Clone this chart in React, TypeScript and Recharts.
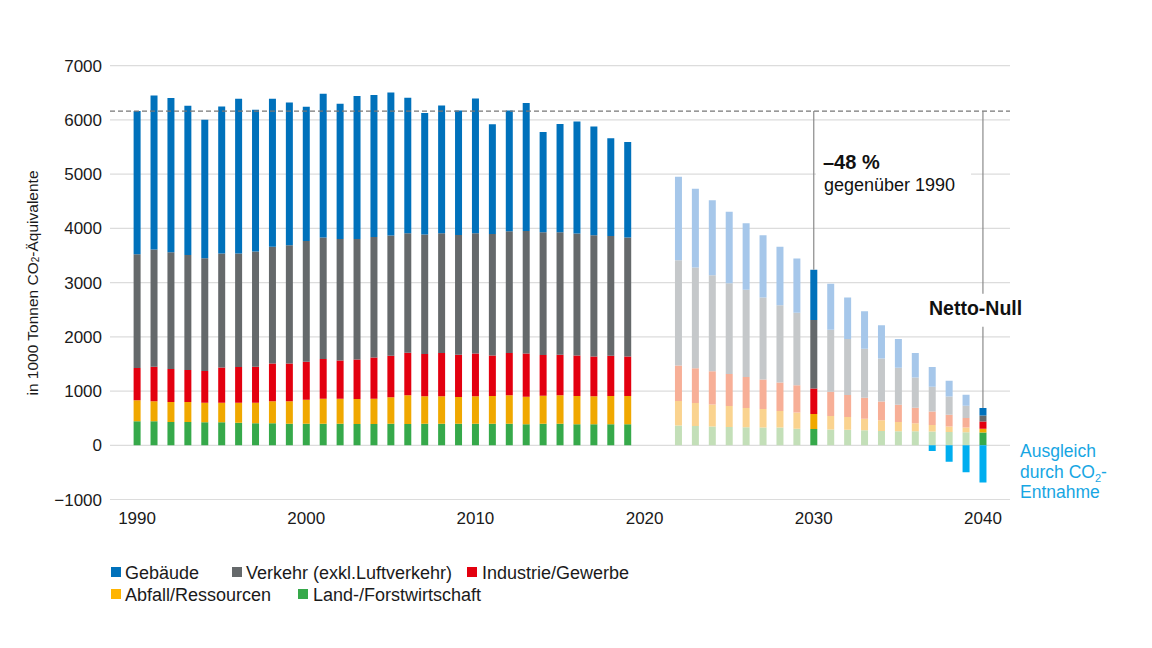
import React from "react";
import { BarChart, Bar, XAxis, YAxis, CartesianGrid, ReferenceLine, Cell } from "recharts";

const years = [
  1990, 1991, 1992, 1993, 1994, 1995, 1996, 1997, 1998, 1999,
  2000, 2001, 2002, 2003, 2004, 2005, 2006, 2007, 2008, 2009,
  2010, 2011, 2012, 2013, 2014, 2015, 2016, 2017, 2018, 2019,
  2022, 2023, 2024, 2025, 2026, 2027, 2028, 2029, 2030,
  2031, 2032, 2033, 2034, 2035, 2036, 2037, 2038, 2039, 2040,
];

const land = [
  442, 442, 430, 430, 424, 424, 417, 405, 405, 399,
  399, 399, 399, 393, 393, 399, 393, 399, 399, 399,
  399, 399, 399, 387, 399, 399, 387, 387, 387, 387,
  363, 357, 344, 338, 332, 326, 326, 307, 301,
  292, 286, 277, 265, 259, 259, 253, 246, 240, 236,
];

const abfall = [
  387, 368, 368, 368, 362, 362, 369, 381, 405, 411,
  442, 460, 460, 460, 466, 485, 528, 503, 503, 491,
  503, 510, 522, 509, 516, 522, 522, 515, 522, 522,
  455, 424, 406, 388, 357, 344, 307, 296, 277,
  250, 234, 210, 197, 172, 148, 123, 99, 87, 68,
];

const industrie = [
  595, 639, 608, 589, 583, 650, 657, 663, 700, 700,
  700, 731, 706, 731, 762, 767, 786, 780, 798, 780,
  792, 748, 779, 798, 749, 749, 748, 737, 742, 730,
  652, 640, 615, 590, 572, 542, 523, 504, 468,
  446, 407, 388, 345, 315, 283, 246, 216, 178, 135,
];

const verkehr = [
  2100, 2161, 2154, 2124, 2081, 2100, 2093, 2124, 2149, 2179,
  2228, 2241, 2241, 2222, 2222, 2216, 2203, 2204, 2210, 2210,
  2216, 2241, 2247, 2259, 2265, 2259, 2247, 2235, 2210, 2192,
  1943, 1857, 1772, 1673, 1605, 1512, 1427, 1335, 1266,
  1142, 1031, 906, 795, 683, 561, 456, 339, 222, 110,
];

const gebaeude = [
  2639, 2842, 2843, 2751, 2554, 2713, 2854, 2615, 2731, 2634,
  2474, 2651, 2492, 2634, 2615, 2640, 2499, 2240, 2358, 2295,
  2487, 2020, 2228, 2358, 1847, 1995, 2069, 2007, 1799, 1761,
  1538, 1451, 1383, 1316, 1230, 1151, 1076, 1002, 923,
  850, 766, 690, 610, 530, 450, 364, 289, 203, 137,
];

const entnahme = [
  0, 0, 0, 0, 0, 0, 0, 0, 0, 0,
  0, 0, 0, 0, 0, 0, 0, 0, 0, 0,
  0, 0, 0, 0, 0, 0, 0, 0, 0, 0,
  0, 0, 0, 0, 0, 0, 0, 0, 0,
  0, 0, 0, 0, 0, 0, -105, -302, -499, -686,
];

const lastHistoricYear = 2019;
const highlightedYears = [2030, 2040];
const xTicks = [1990, 2000, 2010, 2020, 2030, 2040];
const yTicks = [-1000, 0, 1000, 2000, 3000, 4000, 5000, 6000, 7000];
const level1990 = 6163;
const level2030 = 3235;
const level2040 = 686;

const series = [
  { key: "land", name: "Land-/Forstwirtschaft", full: "#36a94a", light: "#c3dfb8" },
  { key: "abfall", name: "Abfall/Ressourcen", full: "#f0a800", light: "#fad38f" },
  { key: "industrie", name: "Industrie/Gewerbe", full: "#e3000f", light: "#f7af97" },
  { key: "verkehr", name: "Verkehr (exkl.Luftverkehr)", full: "#65696b", light: "#c5c8ca" },
  { key: "gebaeude", name: "Gebäude", full: "#0071bb", light: "#a6c7ea" },
];

const removalColor = "#00aeef";

const data = years.map((year, i) => ({
  year,
  land: land[i],
  abfall: abfall[i],
  industrie: industrie[i],
  verkehr: verkehr[i],
  gebaeude: gebaeude[i],
  entnahme: entnahme[i],
}));

const isFull = (year: number) => year <= lastHistoricYear || highlightedYears.includes(year);

const font = "'Liberation Sans', Arial, Helvetica, sans-serif";

const legendItems = [
  { label: "Gebäude", color: "#0071bb", sx: 103, tx: 117, y: 564 },
  { label: "Verkehr (exkl.Luftverkehr)", color: "#65696b", sx: 224, tx: 238, y: 564 },
  { label: "Industrie/Gewerbe", color: "#e3000f", sx: 459, tx: 474, y: 564 },
  { label: "Abfall/Ressourcen", color: "#ffb400", sx: 103, tx: 117, y: 586 },
  { label: "Land-/Forstwirtschaft", color: "#36a94a", sx: 290, tx: 305, y: 586 },
];

const formatY = (v: number) => (v < 0 ? "\u2212" + Math.abs(v) : String(v));

export default function App() {
  return (
    <div style={{ position: "relative", width: 1144, height: 632, fontFamily: font, background: "#fff" }}>
      <BarChart
        width={1144}
        height={560}
        data={data}
        stackOffset="sign"
        margin={{ top: 57.7, right: 142, bottom: 38.5, left: 42 }}
      >
        <CartesianGrid vertical={false} stroke="#dcdcdc" strokeWidth={1.2} />
        <XAxis
          dataKey="year"
          type="number"
          domain={[1988.4, 2041.6]}
          ticks={xTicks}
          allowDataOverflow
          axisLine={false}
          tickLine={false}
          tickMargin={6}
          height={30}
          tick={{ fontSize: 17, fill: "#1a1a1a", fontFamily: font }}
        />
        <YAxis
          type="number"
          domain={[-1000, 7000]}
          ticks={yTicks}
          allowDataOverflow
          axisLine={false}
          tickLine={false}
          width={60}
          tickFormatter={formatY}
          tick={{ fontSize: 17, fill: "#1a1a1a", fontFamily: font }}
        />
        <ReferenceLine y={level1990} stroke="#777" strokeDasharray="5 3" strokeWidth={1.2} />
        {series.map((s) => (
          <Bar key={s.key} dataKey={s.key} name={s.name} stackId="a" barSize={7} isAnimationActive={false}>
            {data.map((d) => (
              <Cell key={d.year} fill={isFull(d.year) ? s.full : s.light} />
            ))}
          </Bar>
        ))}
        <Bar dataKey="entnahme" name="CO2-Entnahme" stackId="a" barSize={7} fill={removalColor} isAnimationActive={false} />
        <ReferenceLine
          segment={[{ x: 2030, y: level1990 }, { x: 2030, y: level2030 }]}
          stroke="#8a8a8a"
          strokeWidth={1.2}
        />
        <ReferenceLine
          segment={[{ x: 2040, y: level1990 }, { x: 2040, y: 2793 }]}
          stroke="#8a8a8a"
          strokeWidth={1.2}
        />
        <ReferenceLine
          segment={[{ x: 2040, y: 2184 }, { x: 2040, y: level2040 }]}
          stroke="#8a8a8a"
          strokeWidth={1.2}
        />
      </BarChart>

      <svg
        width={1144}
        height={632}
        style={{ position: "absolute", left: 0, top: 0, pointerEvents: "none", fontFamily: font }}
      >
        <rect x={808} y={143} width={155} height={46} fill="#fff" />
        <text x={815} y={161} fontSize={20} fontWeight={700} fill="#111">
          –48 %
        </text>
        <text x={816} y={182.7} fontSize={18} fill="#111">
          gegenüber 1990
        </text>
        <text x={921} y={307} fontSize={19.5} fontWeight={700} fill="#111">
          Netto-Null
        </text>
        <text x={1012} y={448.7} fontSize={17.5} fill="#17a6e3">
          Ausgleich
        </text>
        <text x={1012} y={469.7} fontSize={17.5} fill="#17a6e3">
          durch CO
          <tspan fontSize={11} dy={4}>2</tspan>
          <tspan dy={-4}>-</tspan>
        </text>
        <text x={1012} y={490} fontSize={17.5} fill="#17a6e3">
          Entnahme
        </text>
        <text
          transform="translate(24 275) rotate(-90)"
          textAnchor="middle"
          dominantBaseline="central"
          fontSize={15.5}
          fill="#1a1a1a"
        >
          in 1000 Tonnen CO
          <tspan fontSize={10} dy={3}>2</tspan>
          <tspan dy={-3}>-Äquivalente</tspan>
        </text>
        {legendItems.map((it) => (
          <g key={it.label}>
            <rect x={it.sx} y={it.y - 5} width={10} height={10} fill={it.color} />
            <text x={it.tx} y={it.y + 6.5} fontSize={18} fill="#1a1a1a">
              {it.label}
            </text>
          </g>
        ))}
      </svg>
    </div>
  );
}
